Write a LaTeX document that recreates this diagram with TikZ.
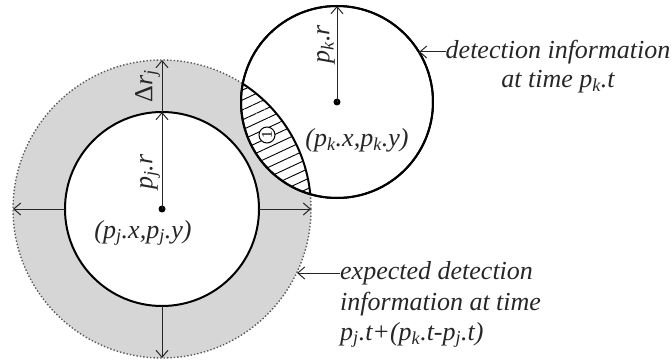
\documentclass[tikz,border=0pt]{standalone}
\usepackage{fontspec}
\setmainfont{Liberation Serif}
\newfontfamily\lblfont{Liberation Serif}[ItalicFont={Liberation Serif Italic}]
\usepackage{xcolor}
\usepackage{tikz}
\usetikzlibrary{arrows.meta}
\usetikzlibrary{patterns.meta}

\begin{document}
\begin{tikzpicture}[
  x=1pt, y=1pt,
  disk/.style={
      draw=black,
      fill=white,
      line width=2pt
  },
  arr/.style={-{Straight Barb[length=7pt,width=12pt]}, line width=1pt, draw=black!85},
  lbl/.style={font=\lblfont\fontsize{26}{30}\selectfont\itshape, text=black!85, inner sep=0pt},
  ctr/.style={circle, fill=black, inner sep=0pt, minimum size=7pt}
]
\useasboundingbox (0,0) rectangle (672,362);

\coordinate (cj) at (162,153);
\coordinate (ck) at (337,260);

% expected area (ring) and the two circles
\fill[black!16] (cj) circle (149);
\draw[dotted, line width=1.4pt, black!65] (cj) circle (149);
\draw[disk] (cj) circle (97);
\draw[disk] (ck) circle (96);

% overlap, hatched
\begin{scope}
  \clip (ck) circle (96);
  \fill[pattern={Lines[angle=25, distance=9pt, line width=0.9pt]}] (cj) circle (149);
  \draw[line width=2pt] (cj) circle (149);
\end{scope}
\draw[line width=2pt] (ck) circle (96);
\node[circle, draw, fill=white, line width=1pt, inner sep=0pt, minimum size=16pt,
      font=\lblfont\fontsize{15}{15}\selectfont, rotate=90] (overlap) at (267,227) {1};

\node[ctr] (dotj) at (cj) {};
\node[ctr] (dotk) at (ck) {};

\coordinate (jtop)   at (162,250);
\coordinate (Jtop)   at (162,302);
\coordinate (jleft)  at (65,153);
\coordinate (Jleft)  at (13,153);
\coordinate (jright) at (259,153);
\coordinate (Jright) at (311,153);
\coordinate (jbot)   at (162,56);
\coordinate (Jbot)   at (162,4);
\coordinate (ktop)   at (337,356);
\coordinate (kedge)  at (419,310);
\coordinate (Jedge)  at (297,89);

\draw[arr] (cj) -- node[lbl, rotate=90, above, inner sep=1.5pt, pos=0.38] {p\textsubscript{j}.r} (jtop);
\draw[arr] (jtop) -- node[lbl, rotate=90, above, inner sep=1.5pt, pos=0.5] {\textup{Δ}r\textsubscript{j}} (Jtop);
\draw[arr] (jleft) -- (Jleft);
\draw[arr] (jright) -- (Jright);
\draw[arr] (jbot) -- (Jbot);
\draw[arr] (ck) -- node[lbl, rotate=90, above, inner sep=1.5pt, pos=0.6] {p\textsubscript{k}.r} (ktop);

\node[lbl] (posj) at (143,129) {(p\textsubscript{j}.x,p\textsubscript{j}.y)};
\node[lbl] (posk) at (357,222) {(p\textsubscript{k}.x,p\textsubscript{k}.y)};

\node[lbl] (det)     at (558,310) {detection information};
\node[lbl] (dettime) at (558,280) {at time p\textsubscript{k}.t};
\node[lbl, anchor=west] (exp)     at (340,89) {expected detection};
\node[lbl, anchor=west] (exptime) at (340,58) {information at time};
\node[lbl, anchor=west] (expdiff) at (340,27) {p\textsubscript{j}.t+(p\textsubscript{k}.t-p\textsubscript{j}.t)};

\draw[arr] (det.west) -- (kedge);
\draw[arr] (exp.west) -- (Jedge);

\end{tikzpicture}
\end{document}
